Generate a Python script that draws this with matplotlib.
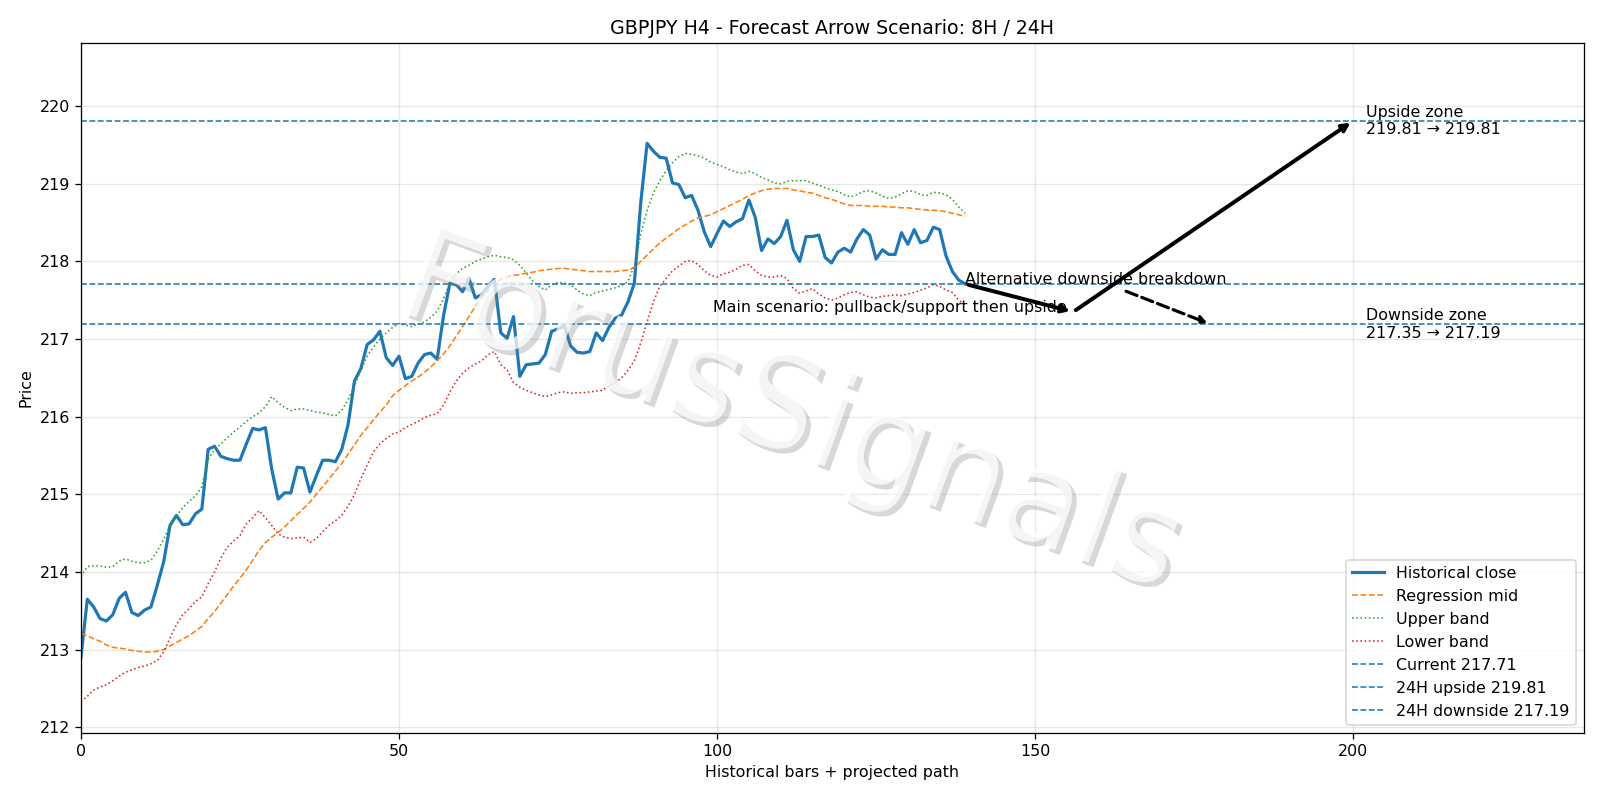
import matplotlib
matplotlib.use("Agg")
import matplotlib.pyplot as plt
import matplotlib.patheffects as pe
import numpy as np

# historical closes, one per H4 bar
close = [212.90, 213.65, 213.55, 213.40, 213.37, 213.45, 213.66, 213.74, 213.48, 213.44,
         213.51, 213.55, 213.83, 214.13, 214.60, 214.73, 214.61, 214.62, 214.75, 214.81,
         215.58, 215.62, 215.49, 215.46, 215.44, 215.44, 215.65, 215.85, 215.83, 215.86,
         215.32, 214.94, 215.02, 215.02, 215.35, 215.34, 215.03, 215.24, 215.44, 215.44,
         215.42, 215.58, 215.90, 216.46, 216.62, 216.93, 216.99, 217.10, 216.76, 216.66,
         216.78, 216.49, 216.52, 216.69, 216.80, 216.82, 216.74, 217.30, 217.72, 217.70,
         217.61, 217.78, 217.53, 217.57, 217.68, 217.77, 217.08, 217.01, 217.29, 216.52,
         216.67, 216.68, 216.69, 216.80, 217.10, 217.13, 217.17, 216.91, 216.83, 216.82,
         216.84, 217.08, 216.98, 217.15, 217.27, 217.31, 217.48, 217.72, 218.75, 219.52,
         219.42, 219.34, 219.33, 219.01, 218.99, 218.82, 218.85, 218.66, 218.38, 218.19,
         218.36, 218.52, 218.45, 218.51, 218.55, 218.79, 218.57, 218.14, 218.29, 218.23,
         218.32, 218.53, 218.15, 218.00, 218.32, 218.32, 218.34, 218.05, 217.98, 218.12,
         218.17, 218.12, 218.29, 218.41, 218.34, 218.03, 218.15, 218.09, 218.09, 218.37,
         218.22, 218.41, 218.24, 218.27, 218.44, 218.41, 218.07, 217.87, 217.76, 217.71]

reg_mid = [213.21, 213.18, 213.14, 213.11, 213.06, 213.03, 213.02, 213.01, 212.99, 212.98,
           212.97, 212.97, 212.98, 213.00, 213.05, 213.09, 213.14, 213.18, 213.24, 213.30,
           213.40, 213.49, 213.60, 213.71, 213.82, 213.92, 214.03, 214.15, 214.28, 214.38,
           214.45, 214.51, 214.58, 214.66, 214.74, 214.82, 214.90, 215.00, 215.10, 215.20,
           215.30, 215.40, 215.52, 215.64, 215.76, 215.86, 215.96, 216.06, 216.15, 216.27,
           216.34, 216.40, 216.46, 216.51, 216.57, 216.64, 216.72, 216.81, 216.91, 217.04,
           217.16, 217.29, 217.42, 217.53, 217.63, 217.70, 217.77, 217.80, 217.82, 217.83,
           217.85, 217.86, 217.88, 217.89, 217.90, 217.91, 217.91, 217.90, 217.89, 217.88,
           217.87, 217.87, 217.87, 217.87, 217.87, 217.88, 217.89, 217.92, 218.00, 218.08,
           218.16, 218.24, 218.30, 218.36, 218.42, 218.47, 218.52, 218.56, 218.58, 218.60,
           218.64, 218.68, 218.72, 218.76, 218.80, 218.85, 218.88, 218.91, 218.93, 218.94,
           218.94, 218.94, 218.92, 218.91, 218.89, 218.88, 218.85, 218.82, 218.80, 218.77,
           218.74, 218.72, 218.72, 218.72, 218.71, 218.71, 218.71, 218.70, 218.70, 218.69,
           218.69, 218.68, 218.67, 218.66, 218.66, 218.65, 218.64, 218.62, 218.60, 218.58]

upper = [213.94, 214.07, 214.08, 214.08, 214.06, 214.07, 214.14, 214.17, 214.14, 214.12,
         214.12, 214.15, 214.27, 214.42, 214.60, 214.72, 214.83, 214.91, 214.98, 215.10,
         215.45, 215.58, 215.65, 215.73, 215.80, 215.87, 215.94, 216.00, 216.05, 216.13,
         216.26, 216.18, 216.12, 216.08, 216.10, 216.10, 216.08, 216.06, 216.05, 216.03,
         216.01, 216.08, 216.22, 216.40, 216.60, 216.78, 216.90, 217.00, 217.08, 217.15,
         217.20, 217.18, 217.16, 217.19, 217.22, 217.28, 217.36, 217.52, 217.72, 217.84,
         217.91, 217.95, 218.00, 218.03, 218.06, 218.08, 218.06, 218.05, 218.02, 217.95,
         217.85, 217.75, 217.68, 217.63, 217.70, 217.73, 217.72, 217.70, 217.63, 217.58,
         217.56, 217.60, 217.62, 217.64, 217.66, 217.69, 217.74, 217.95, 218.35, 218.66,
         218.88, 219.04, 219.17, 219.27, 219.35, 219.39, 219.38, 219.36, 219.33, 219.28,
         219.25, 219.22, 219.18, 219.15, 219.13, 219.16, 219.13, 219.08, 219.05, 219.01,
         219.00, 219.03, 219.04, 219.04, 219.04, 219.01, 218.98, 218.95, 218.92, 218.90,
         218.86, 218.83, 218.86, 218.90, 218.91, 218.88, 218.84, 218.81, 218.83, 218.87,
         218.91, 218.90, 218.86, 218.85, 218.89, 218.88, 218.86, 218.80, 218.70, 218.62]

lower = [212.33, 212.40, 212.48, 212.52, 212.55, 212.60, 212.66, 212.71, 212.74, 212.77,
         212.79, 212.82, 212.86, 212.97, 213.15, 213.32, 213.45, 213.53, 213.62, 213.68,
         213.85, 214.00, 214.18, 214.32, 214.40, 214.47, 214.62, 214.70, 214.79, 214.70,
         214.60, 214.49, 214.45, 214.43, 214.44, 214.45, 214.38, 214.43, 214.52, 214.60,
         214.66, 214.73, 214.85, 215.00, 215.20, 215.38, 215.55, 215.65, 215.72, 215.78,
         215.80, 215.86, 215.90, 215.94, 215.99, 216.02, 216.04, 216.15, 216.32, 216.46,
         216.56, 216.63, 216.68, 216.72, 216.80, 216.84, 216.67, 216.60, 216.44, 216.38,
         216.34, 216.31, 216.28, 216.26, 216.28, 216.31, 216.32, 216.30, 216.31, 216.31,
         216.32, 216.33, 216.34, 216.40, 216.44, 216.50, 216.60, 216.72, 216.95, 217.22,
         217.48, 217.68, 217.78, 217.88, 217.94, 218.00, 218.01, 217.96, 217.88, 217.82,
         217.80, 217.84, 217.86, 217.90, 217.95, 217.96, 217.88, 217.82, 217.80, 217.80,
         217.82, 217.78, 217.65, 217.59, 217.62, 217.65, 217.58, 217.53, 217.50, 217.53,
         217.57, 217.60, 217.61, 217.57, 217.54, 217.53, 217.55, 217.56, 217.57, 217.56,
         217.58, 217.60, 217.63, 217.66, 217.70, 217.68, 217.63, 217.60, 217.50, 217.44]

current = 217.71
up_target = 219.81
down_target = 217.19
pullback = 217.35
pullback_x = 156
up_x = 200
alt_x = 177.6
x_lim = (0, 236.3)
y_lim = (211.93, 220.81)

x = np.arange(len(close))

fig, ax = plt.subplots(figsize=(14, 7), dpi=1600 / 14)
fig.subplots_adjust(left=0.0506, right=0.99, top=0.946, bottom=0.084)

ax.plot(x, close, color='C0', lw=2, label='Historical close')
ax.plot(x, reg_mid, color='C1', ls='--', lw=1, label='Regression mid')
ax.plot(x, upper, color='C2', ls=':', lw=1, label='Upper band')
ax.plot(x, lower, color='C3', ls=':', lw=1, label='Lower band')
ax.axhline(current, color='C0', ls='--', lw=1, label=f'Current {current:.2f}')
ax.axhline(up_target, color='C0', ls='--', lw=1, label=f'24H upside {up_target:.2f}')
ax.axhline(down_target, color='C0', ls='--', lw=1, label=f'24H downside {down_target:.2f}')

last = len(close) - 1
# main path: pullback then upside
ax.annotate('', xy=(pullback_x, pullback), xytext=(last, current),
            arrowprops=dict(arrowstyle='->', lw=2.5, color='black'))
ax.annotate('', xy=(up_x, up_target), xytext=(pullback_x, pullback),
            arrowprops=dict(arrowstyle='->', lw=2.5, color='black'))
ax.text(155, pullback, 'Main scenario: pullback/support then upside', ha='right')
# alternative
ax.annotate('Alternative downside breakdown', xy=(alt_x, down_target), xytext=(last, current),
            arrowprops=dict(arrowstyle='->', lw=2, ls='--', color='black'))

ax.text(202, up_target, f'Upside zone\n{up_target:.2f} \u2192 {up_target:.2f}', va='center')
ax.text(202, down_target, f'Downside zone\n{pullback:.2f} \u2192 {down_target:.2f}', va='center')

# watermark
ax.text(0.472, 0.46, 'ForusSignals', transform=ax.transAxes, fontsize=82, rotation=-20,
        ha='center', va='center', color='white', alpha=0.75, zorder=10,
        path_effects=[pe.withSimplePatchShadow(offset=(3, -3), shadow_rgbFace='gray', alpha=0.3)])

ax.set_xlim(*x_lim)
ax.set_ylim(*y_lim)
ax.grid(True, alpha=0.3)
ax.set_title('GBPJPY H4 - Forecast Arrow Scenario: 8H / 24H')
ax.set_xlabel('Historical bars + projected path')
ax.set_ylabel('Price')
ax.legend(loc='lower right')

plt.savefig('out.png')
